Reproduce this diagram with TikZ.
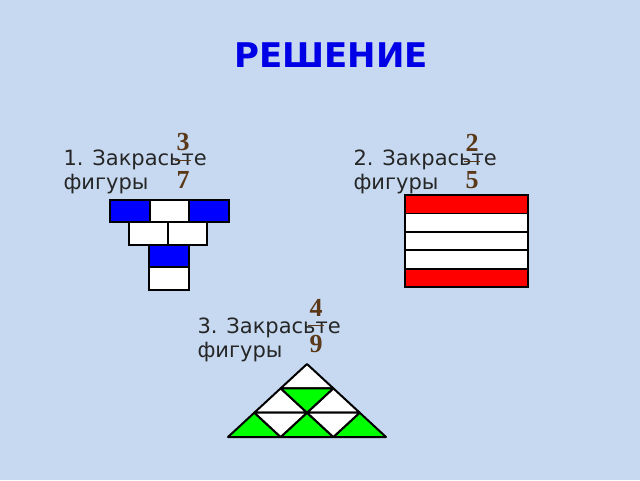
\documentclass[tikz,border=0pt]{standalone}
\usepackage{fontspec}
\usepackage{xcolor}
\setmainfont{DejaVu Sans}
\newfontfamily\digitfont{Liberation Serif}
\usetikzlibrary{positioning, calc}
\definecolor{bgblue}{HTML}{C6D9F1}
\definecolor{titleblue}{HTML}{0000E6}
\definecolor{fracbrown}{HTML}{5A3818}
\definecolor{brightgreen}{HTML}{00FF00}
\tikzset{
  task/.style={anchor=base west, align=left, text=black!85, font=\fontsize{21}{24}\selectfont},
  digit/.style={anchor=base, inner sep=0pt, text=fracbrown, font=\fontsize{26}{26}\selectfont\digitfont\bfseries},
  fracbar/.style={draw=fracbrown, line width=0.8pt},
  cell/.style={draw=black, line width=1.8pt},
  tri/.style={draw=black, line width=2pt, line join=round}
}

\begin{document}
\begin{tikzpicture}[x=1pt, y=-1pt]
  \fill[bgblue] (0,0) rectangle (640,480);
  \useasboundingbox (0,0) rectangle (640,480);

  \node[anchor=base, text=titleblue, font=\fontsize{34}{34}\selectfont\bfseries] (title) at (331,67) {РЕШЕНИЕ};

  \node[task] (task1) at (60,189) {1. Закрасьте\\фигуры};
  \node[digit] (num1) at (183,150) {3};
  \node[digit] (den1) at (183,188) {7};
  \draw[fracbar] ($(num1.south)!0.5!(den1.north)+(-8,0)$) -- ($(num1.south)!0.5!(den1.north)+(8,0)$);

  \node[task] (task2) at (350,189) {2. Закрасьте\\фигуры};
  \node[digit] (num2) at (472,151) {2};
  \node[digit] (den2) at (472,188) {5};
  \draw[fracbar] ($(num2.south)!0.5!(den2.north)+(-8,0)$) -- ($(num2.south)!0.5!(den2.north)+(8,0)$);

  \node[task] (task3) at (194,357) {3. Закрасьте\\фигуры};
  \node[digit] (num3) at (316,316) {4};
  \node[digit] (den3) at (316,352) {9};
  \draw[fracbar] ($(num3.south)!0.5!(den3.north)+(-8,0)$) -- ($(num3.south)!0.5!(den3.north)+(8,0)$);

  \draw[cell, fill=blue]  (110,200) rectangle (150,222);
  \draw[cell, fill=white] (150,200) rectangle (189,222);
  \draw[cell, fill=blue]  (189,200) rectangle (229,222);
  \draw[cell, fill=white] (129,222) rectangle (168,245);
  \draw[cell, fill=white] (168,222) rectangle (207,245);
  \draw[cell, fill=blue]  (149,245) rectangle (189,267);
  \draw[cell, fill=white] (149,267) rectangle (189,290);

  \foreach \i/\c in {0/red, 1/white, 2/white, 3/white, 4/red}
    \draw[cell, fill=\c] (405,195+18.4*\i) rectangle (528,213.4+18.4*\i);

  \draw[tri, fill=white]       (280.67,388.33) -- (333.33,388.33) -- (307,364) -- cycle;
  \draw[tri, fill=white]       (254.33,412.67) -- (307,412.67) -- (280.67,388.33) -- cycle;
  \draw[tri, fill=white]       (307,412.67) -- (359.67,412.67) -- (333.33,388.33) -- cycle;
  \draw[tri, fill=brightgreen] (280.67,388.33) -- (333.33,388.33) -- (307,412.67) -- cycle;
  \draw[tri, fill=brightgreen] (228,437) -- (280.67,437) -- (254.33,412.67) -- cycle;
  \draw[tri, fill=brightgreen] (280.67,437) -- (333.33,437) -- (307,412.67) -- cycle;
  \draw[tri, fill=brightgreen] (333.33,437) -- (386,437) -- (359.67,412.67) -- cycle;
  \draw[tri, fill=white]       (254.33,412.67) -- (307,412.67) -- (280.67,437) -- cycle;
  \draw[tri, fill=white]       (307,412.67) -- (359.67,412.67) -- (333.33,437) -- cycle;
\end{tikzpicture}
\end{document}
